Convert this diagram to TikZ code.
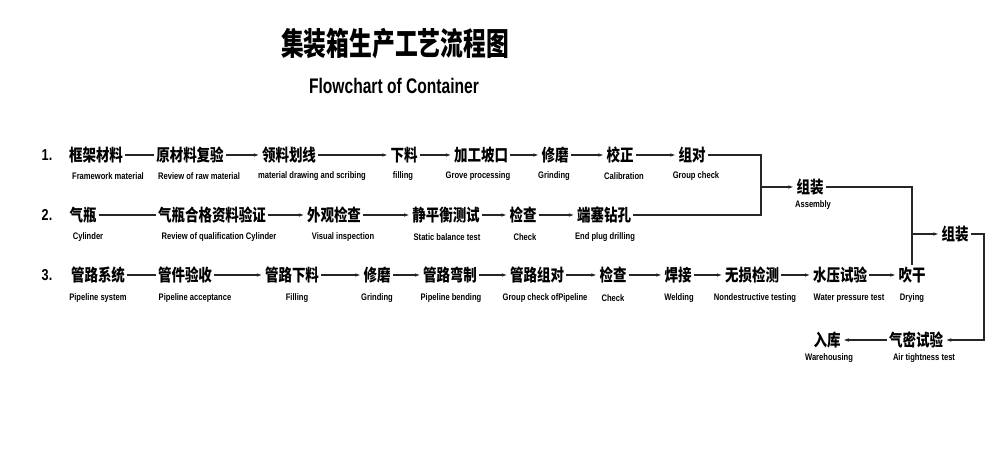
\documentclass[tikz,border=0pt]{standalone}
\usepackage{fontspec}
\setmainfont{Liberation Sans}
\newfontfamily\cjk[FakeStretch=0.8]{Noto Sans CJK SC}
\newfontfamily\cjkwide[FakeStretch=0.72]{Noto Sans CJK SC}
\newfontfamily\enfont[FakeStretch=0.8]{Liberation Sans}
\newfontfamily\entitle[FakeStretch=0.74]{Liberation Sans}
\usetikzlibrary{arrows.meta}

\begin{document}
\begin{tikzpicture}[x=0.02cm, y=-0.02cm,
    zh/.style={font=\cjk\bfseries\fontsize{9.6}{11}\selectfont, inner sep=1pt},
    en/.style={font=\enfont\bfseries\fontsize{5.4}{6}\selectfont, inner sep=0pt},
    num/.style={font=\enfont\bfseries\fontsize{9}{10}\selectfont, inner sep=0pt},
    wire/.style={black!85, line width=0.7pt},
    link/.style={wire, -{Latex[length=3.5pt,width=2pt]}}]
    \useasboundingbox (0,0) rectangle (1000,455);

    % Title
    \node[font=\cjkwide\bfseries\fontsize{18}{20}\selectfont] (title) at (395,44) {集装箱生产工艺流程图};
    \node[font=\entitle\bfseries\fontsize{12}{14}\selectfont] (subtitle) at (394,86) {Flowchart of Container};

    % Row 1: frame
    \node[num] (n1) at (47,155) {1.};
    \node[zh] (frame) at (96,155) {框架材料};   \node[en] (lframe) at (108,176) {Framework material};
    \node[zh] (rawrev) at (190,155) {原材料复验}; \node[en] (lrawrev) at (199,176) {Review of raw material};
    \node[zh] (scribe) at (289,155) {领料划线};  \node[en] (lscribe) at (312,176) {material drawing and scribing};
    \node[zh] (blank) at (404,155) {下料};      \node[en] (lblank) at (403,176) {filling};
    \node[zh] (groove) at (481,155) {加工坡口};  \node[en] (lgroove) at (478,176) {Grove processing};
    \node[zh] (grind) at (555,155) {修磨};      \node[en] (lgrind) at (554,176) {Grinding};
    \node[zh] (calib) at (620,155) {校正};      \node[en] (lcalib) at (624,176) {Calibration};
    \node[zh] (pair) at (692,155) {组对};       \node[en] (lpair) at (696,176) {Group check};
    \draw[wire] (frame) -- (rawrev);
    \draw[link] (rawrev) -- (scribe);
    \draw[link] (scribe) -- (blank);
    \draw[link] (blank) -- (groove);
    \draw[link] (groove) -- (grind);
    \draw[link] (grind) -- (calib);
    \draw[link] (calib) -- (pair);

    % Row 2: cylinder
    \node[num] (n2) at (47,215) {2.};
    \node[zh] (cyl) at (83,215) {气瓶};            \node[en] (lcyl) at (88,237) {Cylinder};
    \node[zh] (qual) at (212,215) {气瓶合格资料验证}; \node[en] (lqual) at (219,237) {Review of qualification Cylinder};
    \node[zh] (visual) at (334,215) {外观检查};     \node[en] (lvisual) at (343,237) {Visual inspection};
    \node[zh] (balance) at (446,215) {静平衡测试};  \node[en] (lbalance) at (447,237) {Static balance test};
    \node[zh] (check) at (523,215) {检查};         \node[en] (lcheck) at (525,237) {Check};
    \node[zh] (plug) at (604,215) {端塞钻孔};       \node[en] (lplug) at (605,237) {End plug drilling};
    \draw[wire] (cyl) -- (qual);
    \draw[link] (qual) -- (visual);
    \draw[link] (visual) -- (balance);
    \draw[link] (balance) -- (check);
    \draw[link] (check) -- (plug);

    % Row 3: pipeline
    \node[num] (n3) at (47,275) {3.};
    \node[zh] (pipe) at (98,275) {管路系统};    \node[en] (lpipe) at (98,298) {Pipeline system};
    \node[zh] (accept) at (185,275) {管件验收};  \node[en] (laccept) at (195,298) {Pipeline acceptance};
    \node[zh] (pcut) at (292,275) {管路下料};    \node[en] (lpcut) at (297,298) {Filling};
    \node[zh] (pgrind) at (377,275) {修磨};     \node[en] (lpgrind) at (377,298) {Grinding};
    \node[zh] (bend) at (450,275) {管路弯制};    \node[en] (lbend) at (451,298) {Pipeline bending};
    \node[zh] (ppair) at (537,275) {管路组对};   \node[en] (lppair) at (545,298) {Group check ofPipeline};
    \node[zh] (pcheck) at (613,275) {检查};     \node[en] (lpcheck) at (613,298) {Check};
    \node[zh] (weld) at (678,275) {焊接};       \node[en] (lweld) at (679,298) {Welding};
    \node[zh] (ndt) at (752,275) {无损检测};     \node[en] (lndt) at (755,298) {Nondestructive testing};
    \node[zh] (hydro) at (840,275) {水压试验};   \node[en] (lhydro) at (849,298) {Water pressure test};
    \node[zh] (dry) at (912,275) {吹干};        \node[en] (ldry) at (912,298) {Drying};
    \draw[wire] (pipe) -- (accept);
    \draw[link] (accept) -- (pcut);
    \draw[link] (pcut) -- (pgrind);
    \draw[link] (pgrind) -- (bend);
    \draw[link] (bend) -- (ppair);
    \draw[link] (ppair) -- (pcheck);
    \draw[link] (pcheck) -- (weld);
    \draw[link] (weld) -- (ndt);
    \draw[link] (ndt) -- (hydro);
    \draw[link] (hydro) -- (dry);

    % Assembly and final steps
    \node[zh] (asm1) at (810,187) {组装};  \node[en] (lasm1) at (813,205) {Assembly};
    \node[zh] (asm2) at (955,234) {组装};
    \node[zh] (air) at (916,340) {气密试验};  \node[en] (lair) at (924,358) {Air tightness test};
    \node[zh] (store) at (827,340) {入库};   \node[en] (lstore) at (829,358) {Warehousing};
    \coordinate (j1) at (761,187);
    \coordinate (j2) at (dry.north |- asm2.west);
    \coordinate (c2) at (984,340);
    \draw[wire] (pair) -| (j1);
    \draw[wire] (plug) -| (j1);
    \draw[link] (j1) -- (asm1);
    \draw[wire] (asm1) -| (dry.north);
    \draw[link] (j2) -- (asm2);
    \draw[link] (asm2) -| (c2) -- (air);
    \draw[link] (air) -- (store);
\end{tikzpicture}
\end{document}
